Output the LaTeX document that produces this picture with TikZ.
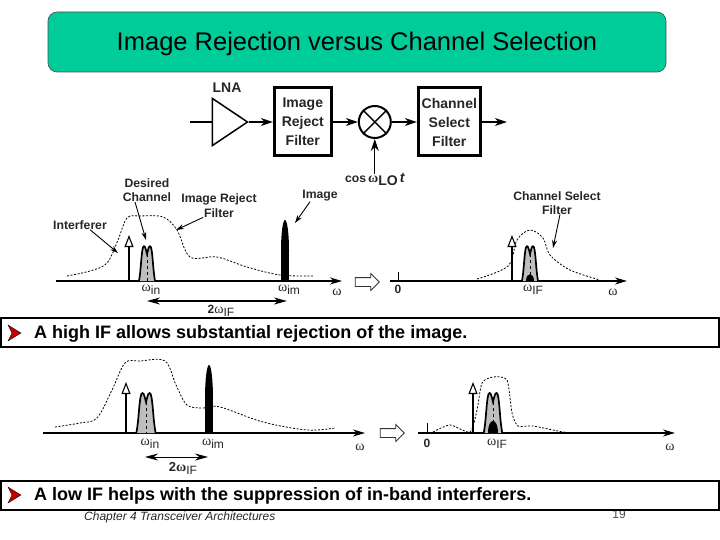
\documentclass[tikz,border=0pt]{standalone}
\usepackage{fontspec}
\setmainfont{Liberation Sans}
\newfontfamily\omfont{Liberation Serif}
\usetikzlibrary{arrows.meta,positioning,shapes.geometric,shapes.arrows}
\definecolor{titlegreen}{HTML}{00CC99}
\definecolor{bandgray}{HTML}{BEBEBE}
\definecolor{bulletred}{HTML}{C00000}
\newcommand{\om}{{\omfont\symbol{"03C9}}}
\newcommand{\omsub}[1]{{\fontsize{14}{16}\selectfont\om}\raisebox{-3pt}{#1}}
\tikzset{
  bandpeak/.pic={
    \draw[line width=1.7pt, fill=bandgray] (-8,0) .. controls (-6,-12) and (-6,-22) .. (-4.6,-31) .. controls (-4,-36) and (-2,-36) .. (-1,-31) -- (0,-27) -- (1,-31) .. controls (2,-36) and (4,-36) .. (4.6,-31) .. controls (6,-22) and (6,-12) .. (8,0);
    \draw[dashed, line width=0.8pt] (0,-27) -- (0,0);
  },
  bandlow/.pic={
    \fill (-4,0) .. controls (-4,-9) and (4,-9) .. (4,0) -- cycle;
  }
}
\begin{document}
\begin{tikzpicture}[x=1pt, y=-1pt, node distance=25pt,
      every node/.style={inner sep=0pt},
      title/.style={draw=black!70, fill=titlegreen, rounded corners=9pt, line width=0.6pt, minimum width=618pt, minimum height=60pt, text height=20pt, text depth=2pt, font=\fontsize{25.5}{28}\selectfont},
      bar/.style={draw=black, line width=2pt, minimum width=718pt, minimum height=29pt},
      say/.style={font=\fontsize{18}{20}\selectfont\bfseries},
      blockbox/.style={draw=black, line width=3pt, fill=white, minimum height=68pt, align=center, font=\fontsize{14}{19}\selectfont\bfseries, text=black!85},
      lab/.style={align=center, font=\fontsize{12.2}{14.5}\selectfont\bfseries, text=black!85},
      freq/.style={font=\fontsize{12}{14}\selectfont, text=black!85},
      arr/.style={-{Stealth[length=12pt,width=8pt]}, line width=1.5pt},
      axisline/.style={-{Stealth[length=12pt,width=7pt]}, line width=1.3pt},
      leader/.style={-{Stealth[length=8pt,width=5pt]}, line width=0.9pt},
      tone/.style={-{Triangle[open,fill=white,length=12pt,width=9pt,line width=1.1pt]}, line width=2.4pt},
      span/.style={{Stealth[length=13pt,width=7pt]}-{Stealth[length=13pt,width=7pt]}, line width=0.9pt},
      filt/.style={dash pattern=on 2pt off 1.6pt, line width=0.8pt, smooth, tension=0.55},
      blockarrow/.style={single arrow, draw=black!80, fill=white, line width=0.8pt, minimum height=24pt, text height=8pt, text depth=0pt, text width=0pt, single arrow head extend=4pt}]
    \useasboundingbox (0,0) rectangle (720,540);
    \node[title] (head) at (357,42) {Image Rejection versus Channel Selection};

    % receiver chain
    \coordinate (rfin) at (190,122);
    \node[isosceles triangle, isosceles triangle apex angle=68, isosceles triangle stretches, draw, line width=1.5pt, minimum width=47pt, minimum height=35pt] (lna) at (225,122) {};
    \node[lab, font=\fontsize{14}{16}\selectfont\bfseries] (lnatxt) at (227,88) {LNA};
    \node[blockbox, minimum width=57pt, right=24pt of lna.apex] (irf) {Image\\Reject\\Filter};
    \node[circle, draw, line width=2pt, minimum size=32pt, right=of irf] (mix) {};
    \node[blockbox, minimum width=62pt, right=of mix] (csf) {Channel\\Select\\Filter};
    \coordinate[right=of csf] (rfout);
    \node[lab] (lo) at (375,180) {cos\,\omsub{\fontsize{14}{16}\selectfont LO}\,{\fontsize{14}{16}\selectfont\textit{t}}};
    \draw[line width=1.5pt] (mix.north west) -- (mix.south east) (mix.north east) -- (mix.south west);
    \draw[line width=1.5pt] (rfin) -- (lna.lower side);
    \draw[arr] (lna.apex) -- (irf);
    \draw[arr] (irf) -- (mix);
    \draw[arr] (mix) -- (csf);
    \draw[arr] (csf) -- (rfout);
    \draw[arr, line width=0.9pt] (mix |- lo.north) -- (mix);

    % high IF, before mixing
    \coordinate (axa0) at (56,281); \coordinate (axa1) at (342,281);
    \draw[axisline] (axa0) -- (axa1);
    \draw[filt] plot coordinates {(67,276) (90,271) (107,263) (118,240) (127,218) (140,216) (163,217) (177,230) (190,257) (217,257) (247,267) (280,275) (313,276)};
    \coordinate (ina) at (129,281); \coordinate (inatop) at (129,235);
    \draw[tone] (ina) -- (inatop);
    \pic at (147,281) {bandpeak};
    \node[fill=black, ellipse, minimum width=8pt, minimum height=61pt] (imga) at (285,250.5) {};
    \fill (281,281) rectangle (289,250);
    \node[lab] (dcl) at (147,190) {Desired\\Channel};
    \node[lab] (irl) at (219,205.5) {Image Reject\\Filter};
    \node[lab] (iml) at (320,196) {Image};
    \node[lab] (ifl) at (80,225) {Interferer};
    \coordinate (dct) at (146,240); \coordinate (irt) at (176,230); \coordinate (imt) at (295,223); \coordinate (ift) at (118,253);
    \draw[leader] ([xshift=-12pt]dcl.south) -- (dct);
    \draw[leader] ([xshift=-16pt]irl.south) -- (irt);
    \draw[leader] ([xshift=-10pt]iml.south) -- (imt);
    \draw[leader] ([xshift=10pt]ifl.south) -- (ift);
    \node[freq] (wina) at (151,290) {\omsub{in}};
    \node[freq] (wima) at (289,290) {\omsub{im}};
    \node[freq] (wa) at (337,292) {\fontsize{14}{16}\selectfont\om};
    \coordinate (spa0) at (147,301); \coordinate (spa1) at (287,301);
    \draw[span, line width=1.3pt] (spa0) -- (spa1);
    \node[freq] (twoa) at (221,311) {\textbf{2}\omsub{IF}};
    \node[blockarrow] (moveA) at (365,282) {};

    % high IF, after mixing
    \coordinate (axb0) at (390,281); \coordinate (axb1) at (627,281);
    \draw[axisline] (axb0) -- (axb1);
    \draw[line width=1pt] (398,272) -- (398,281);
    \node[freq, font=\fontsize{12}{14}\selectfont\bfseries] (zeroa) at (398,289) {0};
    \draw[filt] plot coordinates {(477,279) (508,266) (517,240) (530,230) (543,238) (550,255) (570,270) (600,280)};
    \coordinate (inb) at (512,281); \coordinate (inbtop) at (512,235);
    \draw[tone] (inb) -- (inbtop);
    \pic at (530,281) {bandpeak};
    \pic at (530,281) {bandlow};
    \node[lab, font=\fontsize{12.2}{13.5}\selectfont\bfseries] (csl) at (557,203) {Channel Select\\Filter};
    \coordinate (cst) at (553,248);
    \draw[leader] ([xshift=3pt]csl.south) -- (cst);
    \node[freq] (wifa) at (533,290) {\omsub{IF}};
    \node[freq] (wb) at (613,292) {\fontsize{14}{16}\selectfont\om};

    \node[bar, say] (hbar) at (360,332.5) {};
    \node[say, anchor=west] (htxt) at (34,334) {A high IF allows substantial rejection of the image.};
    \fill[bulletred, draw=black, line width=0.3pt] (8,325) -- (21,333) -- (8,341) -- (12,333) -- cycle;

    % low IF, before mixing
    \coordinate (axc0) at (43,433); \coordinate (axc1) at (365,433);
    \draw[axisline] (axc0) -- (axc1);
    \draw[filt] plot coordinates {(55,427) (80,423) (97,418) (112,390) (125,363) (140,361) (165,361) (176,385) (187,405) (203,408) (220,407) (263,422) (307,430) (335,428)};
    \coordinate (inc) at (126,433); \coordinate (inctop) at (126,382);
    \draw[tone] (inc) -- (inctop);
    \pic[xscale=1.2, yscale=1.15] at (146,433) {bandpeak};
    \node[fill=black, ellipse, minimum width=8pt, minimum height=68pt] (imgb) at (209,399) {};
    \fill (205,433) rectangle (213,399);
    \node[freq] (winb) at (150,444) {\omsub{\fontsize{12}{14}\selectfont in}};
    \node[freq] (wimb) at (213,444) {\omsub{\fontsize{12}{14}\selectfont im}};
    \node[freq] (wc) at (360,447) {\fontsize{14}{16}\selectfont\om};
    \coordinate (spb0) at (145,457); \coordinate (spb1) at (208,457);
    \draw[span] (spb0) -- (spb1);
    \node[freq, font=\fontsize{13}{15}\selectfont\bfseries] (twob) at (183,468) {2\omsub{\mdseries\fontsize{12}{14}\selectfont IF}};
    \node[blockarrow] (moveB) at (390,433) {};

    % low IF, after mixing
    \coordinate (axd0) at (418,433); \coordinate (axd1) at (675,433);
    \draw[axisline] (axd0) -- (axd1);
    \draw[line width=1pt] (427,423) -- (427,433);
    \node[freq, font=\fontsize{12}{14}\selectfont\bfseries] (zerob) at (427,443) {0};
    \draw[filt, tension=0.4] plot coordinates {(433,432) (450,425) (470,432) (477,410) (482,383) (493,377) (507,380) (512,413) (518,426) (533,426) (563,432) (580,433)};
    \coordinate (ind) at (473,433); \coordinate (indtop) at (473,382);
    \draw[tone] (ind) -- (indtop);
    \pic[xscale=1.15, yscale=1.15] at (493,433) {bandpeak};
    \pic[xscale=1.2, yscale=1.8] at (493,433) {bandlow};
    \node[freq] (wifb) at (497,444) {\omsub{\fontsize{12}{14}\selectfont IF}};
    \node[freq] (wd) at (670,447) {\fontsize{14}{16}\selectfont\om};

    \node[anchor=west, font=\fontsize{12}{14}\selectfont\itshape, text=black!85] (foot) at (84,517) {Chapter 4 Transceiver Architectures};
    \node[font=\fontsize{12}{14}\selectfont, text=black!70] (pageno) at (619,514) {19};

    \node[bar, say] (lbar) at (360,495) {};
    \node[say, anchor=west] (ltxt) at (34,496) {A low IF helps with the suppression of in-band interferers.};
    \fill[bulletred, draw=black, line width=0.3pt] (8,487) -- (21,495) -- (8,503) -- (12,495) -- cycle;
  \end{tikzpicture}
\end{document}
